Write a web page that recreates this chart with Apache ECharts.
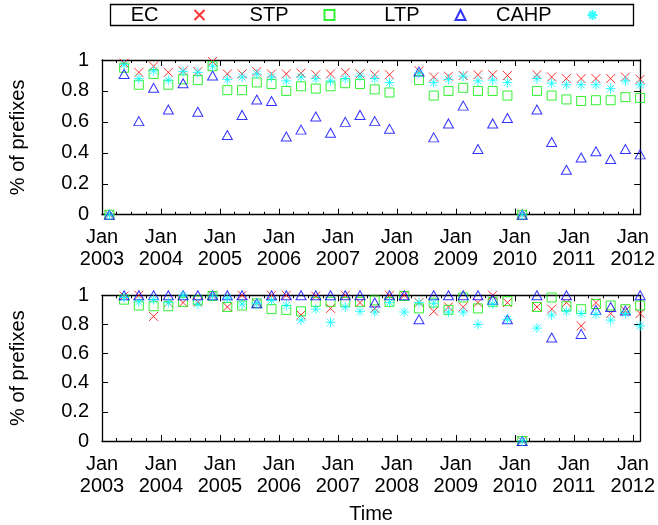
<!DOCTYPE html>
<html>
<head>
<meta charset="utf-8">
<script src="https://cdn.jsdelivr.net/npm/echarts@6/dist/echarts.min.js"></script>
<style>
  html, body { margin: 0; background: #fff; }
  #chart { width: 658px; height: 525px; }
</style>
</head>
<body>
<div id="chart"></div>
<script>
// sample dates (mid-month of each quarter)
const months = [
  '2003-02', '2003-05', '2003-08', '2003-11',
  '2004-02', '2004-05', '2004-08', '2004-11',
  '2005-02', '2005-05', '2005-08', '2005-11',
  '2006-02', '2006-05', '2006-08', '2006-11',
  '2007-02', '2007-05', '2007-08', '2007-11',
  '2008-02', '2008-05', '2008-08', '2008-11',
  '2009-02', '2009-05', '2009-08', '2009-11',
  '2010-02', '2010-05', '2010-08', '2010-11',
  '2011-02', '2011-05', '2011-08', '2011-11',
  '2012-02'
];

const seriesNames = ['EC', 'STP', 'LTP', 'CAHP'];
const yTicks = [0, 0.2, 0.4, 0.6, 0.8, 1];
const yearTicks = [2003, 2004, 2005, 2006, 2007, 2008, 2009, 2010, 2011, 2012];

// upper panel
const topEC = [0, 0.98, 0.92, 0.96, 0.92, 0.93, 0.925, 0.99, 0.91, 0.91, 0.925, 0.91, 0.91, 0.915, 0.905, 0.91, 0.92, 0.91, 0.905, 0.905, null, 0.93, 0.89, 0.895, 0.90, 0.905, 0.905, 0.90, 0, 0.905, 0.89, 0.88, 0.88, 0.88, 0.88, 0.89, 0.875];
const topSTP = [0, 0.95, 0.84, 0.91, 0.84, 0.875, 0.87, 0.96, 0.805, 0.805, 0.855, 0.845, 0.80, 0.83, 0.815, 0.83, 0.85, 0.845, 0.81, 0.79, null, 0.87, 0.77, 0.80, 0.82, 0.80, 0.80, 0.77, 0, 0.80, 0.77, 0.745, 0.735, 0.74, 0.74, 0.76, 0.755];
const topLTP = [0, 0.91, 0.605, 0.82, 0.68, 0.85, 0.665, 0.90, 0.515, 0.645, 0.745, 0.735, 0.505, 0.55, 0.635, 0.53, 0.60, 0.645, 0.605, 0.555, null, 0.925, 0.50, 0.59, 0.705, 0.425, 0.59, 0.625, 0, 0.68, 0.47, 0.29, 0.37, 0.41, 0.36, 0.425, 0.39];
const topCAHP = [0, 0.97, 0.88, 0.93, 0.87, 0.925, 0.92, 0.96, 0.875, 0.89, 0.91, 0.89, 0.865, 0.89, 0.88, 0.865, 0.88, 0.895, 0.88, 0.855, null, 0.915, 0.855, 0.875, 0.895, 0.865, 0.87, 0.855, 0, 0.88, 0.85, 0.84, 0.84, 0.84, 0.815, 0.865, 0.84];

// lower panel
const botEC = [null, 0.995, 1, 0.855, 0.95, 0.95, 0.955, 1, 0.92, 1, 0.945, 1, 1, 0.865, 0.995, 0.91, 1, 0.95, 0.91, 1, 1, 0.95, 0.89, 0.92, 0.92, 0.95, 1, 0.95, 0, 0.92, 0.905, 0.95, 0.79, 0.95, 0.875, 0.895, 0.875];
const botSTP = [null, 0.97, 0.93, 0.925, 0.925, 0.955, 0.965, 0.995, 0.92, 0.93, 0.945, 0.905, 0.90, 0.89, 0.955, 0.955, 0.955, 0.955, 0.965, 0.955, 0.995, 0.91, 0.95, 0.90, 0.985, 0.91, 0.955, 0.96, 0, 0.92, 0.985, 0.925, 0.905, 0.94, 0.93, 0.905, 0.93];
const botLTP = [null, 1, 1, 1, 1, 1, 1, 1, 1, 1, 0.945, 1, 1, 1, 1, 1, 1, 1, 0.95, 1, 1, 0.835, 1, 1, 1, 1, 0.97, 0.835, 0, 1, 0.71, 1, 0.735, 0.90, 0.92, 0.895, 1];
const botCAHP = [null, 0.985, 0.955, 0.97, 0.95, 1, 0.94, 0.995, 0.98, 0.94, 0.945, 0.965, 0.93, 0.83, 0.905, 0.815, 0.92, 0.89, 0.885, 0.95, 0.885, 0.95, 0.945, 0.885, 0.885, 0.80, 0.94, 0.835, 0, 0.775, 0.865, 0.89, 0.875, 0.87, 0.83, 0.875, 0.79];

const font = '"Liberation Sans", Arial, Helvetica, sans-serif';

// month string -> fractional year (middle of month)
const toYear = s => +s.slice(0, 4) + (+s.slice(5, 7) - 0.5) / 12;
const xMin = yearTicks[0];
const xMax = toYear(months[months.length - 1]);

const pairs = vals => months
  .map((m, i) => [toYear(m), vals[i]])
  .filter(p => p[1] !== null);

const symbols = {
  EC: { symbol: 'path://M0,0L10,10M0,10L10,0', size: 9, color: '#ff0000' },
  STP: { symbol: 'rect', size: 9, color: '#00ee00' },
  LTP: { symbol: 'triangle', size: [10, 9], color: '#0000ff' },
  CAHP: { symbol: 'path://M5,0L5,10M0,5L10,5M1.5,1.5L8.5,8.5M8.5,1.5L1.5,8.5', size: 10, color: '#00ffff' }
};

const makeSeries = (name, vals, axisIndex) => ({
  name,
  type: 'scatter',
  xAxisIndex: axisIndex,
  yAxisIndex: axisIndex,
  symbol: symbols[name].symbol,
  symbolSize: symbols[name].size,
  clip: false,
  itemStyle: {
    color: 'none',
    borderColor: symbols[name].color,
    borderWidth: 1
  },
  emphasis: { disabled: true },
  data: pairs(vals)
});

const axisLine = { onZero: false, lineStyle: { color: '#000', width: 1.3 } };
const tickStyle = { color: '#000', width: 1 };

const xLabelFmt = v => {
  const r = Math.round(v);
  return Math.abs(v - r) < 1e-6 && yearTicks.includes(r) ? 'Jan\n' + r : '';
};

const makeXAxes = (gridIndex, name) => [
  {
    type: 'value', gridIndex, min: xMin, max: xMax, interval: 1,
    axisLine,
    axisTick: { inside: true, length: 6, lineStyle: tickStyle },
    minorTick: { show: true, splitNumber: 4, length: 3, lineStyle: tickStyle },
    splitLine: { show: false },
    axisLabel: {
      formatter: xLabelFmt, fontSize: 20, lineHeight: 22, color: '#000',
      fontFamily: font, margin: 12, showMaxLabel: false
    },
    name, nameLocation: 'middle', nameGap: 63,
    nameTextStyle: { fontSize: 20, color: '#000', fontFamily: font }
  },
  {
    type: 'value', gridIndex, position: 'top', min: xMin, max: xMax, interval: 1,
    axisLine,
    axisTick: { inside: true, length: 6, lineStyle: tickStyle },
    minorTick: { show: true, splitNumber: 4, length: 3, lineStyle: tickStyle },
    splitLine: { show: false },
    axisLabel: { show: false }
  }
];

const makeYAxes = gridIndex => [
  {
    type: 'value', gridIndex, min: yTicks[0], max: yTicks[yTicks.length - 1], interval: 0.2,
    axisLine,
    axisTick: { inside: true, length: 6, lineStyle: tickStyle },
    splitLine: { show: false },
    axisLabel: { fontSize: 20, color: '#000', fontFamily: font, margin: 13 },
    name: '% of prefixes', nameLocation: 'middle', nameRotate: 90, nameGap: 74,
    nameTextStyle: { fontSize: 20, color: '#000', fontFamily: font }
  },
  {
    type: 'value', gridIndex, position: 'right', min: yTicks[0], max: yTicks[yTicks.length - 1], interval: 0.2,
    axisLine,
    axisTick: { inside: true, length: 6, lineStyle: tickStyle },
    splitLine: { show: false },
    axisLabel: { show: false }
  }
];

// legend: text then symbol, like the gnuplot key
const legendIconRight = [207, 337, 468, 600];
const legend = seriesNames.map((n, i) => ({
  data: [n],
  right: 658 - legendIconRight[i],
  top: 5,
  align: 'right',
  padding: 0,
  itemWidth: 10,
  itemHeight: 10,
  selectedMode: false,
  textStyle: { fontSize: 20, color: '#000', fontFamily: font, padding: [0, 31, 0, 0] }
}));

const option = {
  backgroundColor: '#fff',
  animation: false,
  legend,
  graphic: [{
    type: 'rect',
    shape: { x: 110.5, y: 4.5, width: 523, height: 21 },
    style: { fill: 'none', stroke: '#000', lineWidth: 1.3 }
  }],
  grid: [
    { left: 102, top: 60, width: 540, height: 154.7 },
    { left: 102, top: 295.3, width: 540, height: 148 }
  ],
  xAxis: [...makeXAxes(0, ''), ...makeXAxes(1, 'Time')],
  yAxis: [...makeYAxes(0), ...makeYAxes(1)],
  series: [
    makeSeries('EC', topEC, 0),
    makeSeries('STP', topSTP, 0),
    makeSeries('LTP', topLTP, 0),
    makeSeries('CAHP', topCAHP, 0),
    makeSeries('EC', botEC, 2),
    makeSeries('STP', botSTP, 2),
    makeSeries('LTP', botLTP, 2),
    makeSeries('CAHP', botCAHP, 2)
  ]
};

const chart = echarts.init(document.getElementById('chart'));
chart.setOption(option);
</script>
</body>
</html>
